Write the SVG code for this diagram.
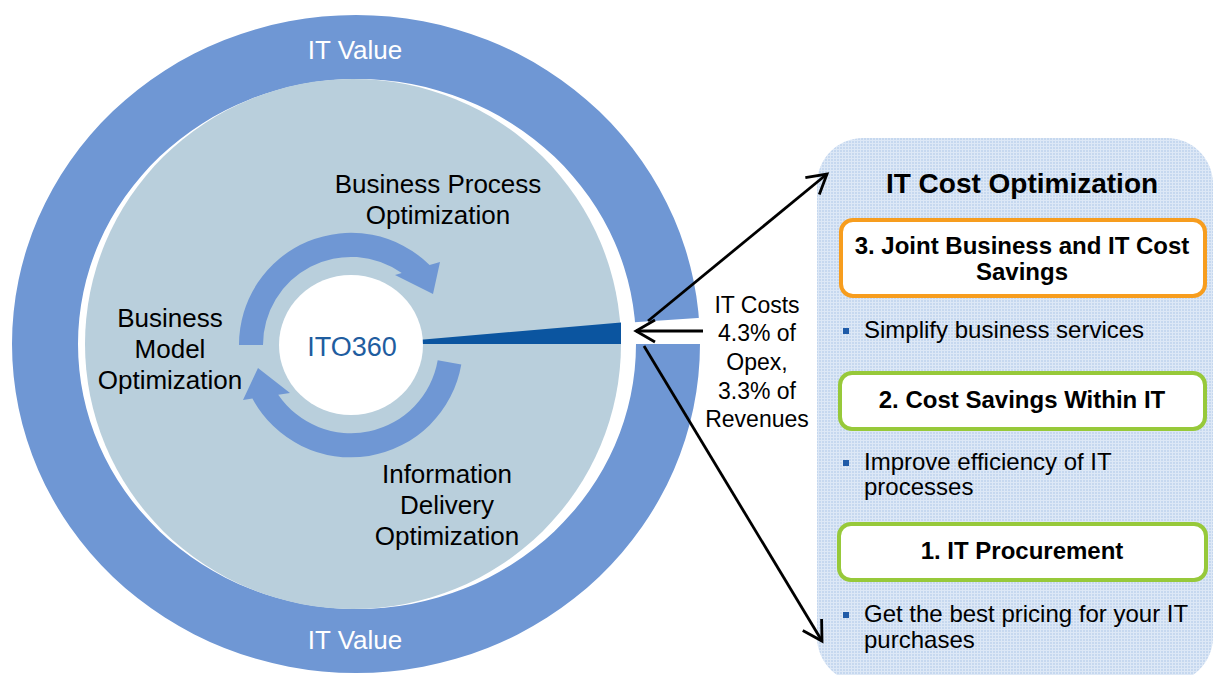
<svg xmlns="http://www.w3.org/2000/svg" width="1214" height="675" viewBox="0 0 1214 675">
  <defs>
    <style>
      text { font-family: "Liberation Sans", Arial, sans-serif; }
      .lbl { font-size: 26px; fill: #000; text-anchor: middle; }
      .val { font-size: 26px; fill: #fff; text-anchor: middle; }
      .cost { font-size: 23px; fill: #000; text-anchor: middle; }
      .title { font-size: 28px; font-weight: bold; fill: #000; text-anchor: middle; }
      .step { font-size: 24px; font-weight: bold; fill: #000; text-anchor: middle; }
      .bullet { font-size: 24px; fill: #000; }
      .dot { fill: #1f5ba8; }
      .box { fill: #fff; stroke-width: 4; }
      .orange { stroke: #f79d1e; }
      .green { stroke: #97c93a; }
      .conn { fill: none; stroke: #000; stroke-width: 2.8; marker-end: url(#head); }
    </style>
    <pattern id="grain" width="3" height="3" patternUnits="userSpaceOnUse">
      <rect width="3" height="3" fill="#dde8f6"/>
      <rect width="2" height="2" fill="#c6d8ef"/>
    </pattern>
    <marker id="head" markerUnits="userSpaceOnUse" markerWidth="30" markerHeight="30" viewBox="-25 -15 30 30" refX="0" refY="0" orient="auto">
      <path d="M -19 -11 L 0 0 L -19 11" fill="none" stroke="#000" stroke-width="2.8"/>
    </marker>
  </defs>

  <!-- outer value ring -->
  <g id="ring">
    <path fill="#6f97d4" fill-rule="evenodd" d="M 12 344 A 344 329 0 1 0 700 344 A 344 329 0 1 0 12 344 Z M 78 344 A 279 265 0 1 0 636 344 A 279 265 0 1 0 78 344 Z"/>
    <polygon fill="#fff" points="560,344 720,344 720,316.5 560,327.3"/>
    <text class="val" x="355" y="59">IT Value</text>
    <text class="val" x="355" y="649">IT Value</text>
  </g>

  <!-- inner optimization disc -->
  <g id="disc">
    <ellipse cx="353" cy="344" rx="268" ry="265" fill="#b9cfdc"/>
    <path fill="#0b55a0" d="M 372 344 L 621 322.5 L 621 344 Z"/>
    <path fill="#6f97d4" d="M 239 345 A 112 112 0 0 1 429.6 265 L 440 262 L 433 294 L 395 275 L 401.75 273 A 88 88 0 0 0 263 345 Z"/>
    <path fill="#6f97d4" d="M 461.3 364.4 A 112 112 0 0 1 252.4 398.6 L 243 400 L 258 368 L 290 393 L 278.25 394.75 A 88 88 0 0 0 437.7 360.3 Z"/>
    <text class="lbl" x="438" y="193">Business Process</text>
    <text class="lbl" x="438" y="224">Optimization</text>
    <text class="lbl" x="170" y="327">Business</text>
    <text class="lbl" x="170" y="358">Model</text>
    <text class="lbl" x="170" y="389">Optimization</text>
    <text class="lbl" x="447" y="483">Information</text>
    <text class="lbl" x="447" y="514">Delivery</text>
    <text class="lbl" x="447" y="545">Optimization</text>
  </g>

  <g id="ito360">
    <ellipse cx="351" cy="345" rx="72" ry="70" fill="#fff"/>
    <text x="352" y="356" font-size="27" fill="#1f5d9f" text-anchor="middle">ITO360</text>
  </g>

  <g id="it-costs">
    <text class="cost" x="757" y="313">IT Costs</text>
    <text class="cost" x="757" y="341">4.3% of</text>
    <text class="cost" x="757" y="370">Opex,</text>
    <text class="cost" x="757" y="399">3.3% of</text>
    <text class="cost" x="757" y="427">Revenues</text>
  </g>

  <!-- cost optimization panel -->
  <g id="panel">
    <rect x="817" y="138" width="396" height="545" rx="46" fill="url(#grain)"/>
    <text class="title" x="1022" y="193">IT Cost Optimization</text>
  </g>

  <g id="step3">
    <rect class="box orange" x="841" y="220" width="364" height="76" rx="12"/>
    <text class="step" x="1022" y="254">3. Joint Business and IT Cost</text>
    <text class="step" x="1022" y="280">Savings</text>
    <rect class="dot" x="843" y="328" width="6" height="6"/>
    <text class="bullet" x="864" y="338">Simplify business services</text>
  </g>

  <g id="step2">
    <rect class="box green" x="840" y="373" width="365" height="56" rx="12"/>
    <text class="step" x="1022" y="408">2. Cost Savings Within IT</text>
    <rect class="dot" x="843" y="460" width="6" height="6"/>
    <text class="bullet" x="864" y="470">Improve efficiency of IT</text>
    <text class="bullet" x="864" y="495">processes</text>
  </g>

  <g id="step1">
    <rect class="box green" x="839" y="524" width="367" height="56" rx="12"/>
    <text class="step" x="1022" y="559">1. IT Procurement</text>
    <rect class="dot" x="843" y="612" width="6" height="6"/>
    <text class="bullet" x="864" y="622">Get the best pricing for your IT</text>
    <text class="bullet" x="864" y="648">purchases</text>
  </g>

  <g id="connectors">
    <path class="conn" d="M 703 331 L 636 331"/>
    <path class="conn" d="M 648 321 L 827 174"/>
    <path class="conn" d="M 644 346 L 822 641"/>
  </g>
</svg>
